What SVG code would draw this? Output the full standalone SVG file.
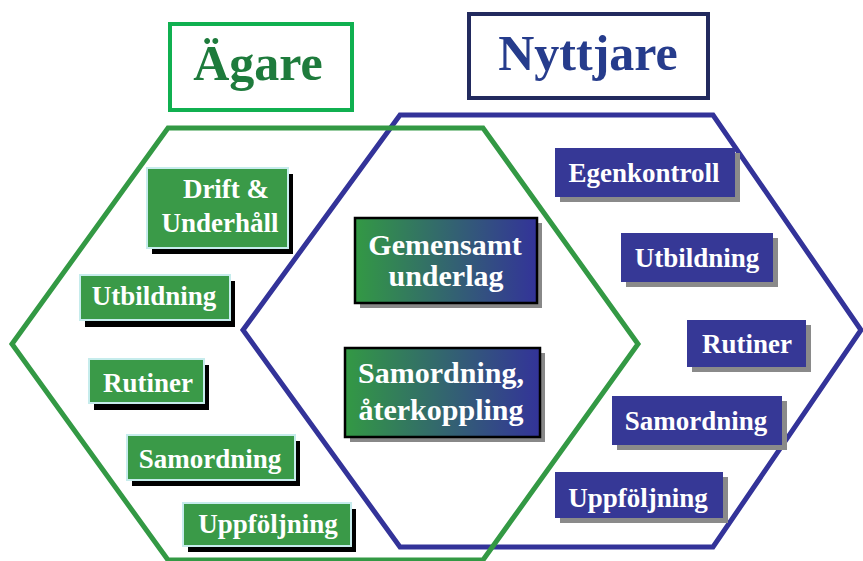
<svg xmlns="http://www.w3.org/2000/svg" width="863" height="561" viewBox="0 0 863 561" font-family="'Liberation Serif','Times New Roman',serif">
<defs>
<linearGradient id="gb" x1="0" y1="0" x2="1" y2="0">
<stop offset="0" stop-color="#339944"/>
<stop offset="1" stop-color="#333399"/>
</linearGradient>
<style>
text{font-family:"Liberation Serif","Times New Roman",serif;font-weight:bold;text-anchor:middle}
.lbl{fill:#ffffff;font-size:27px}
.big{font-size:30px;fill:#ffffff}
.gbox{fill:#3a9a48;stroke:#c6ecec;stroke-width:2}
.gsh{fill:#000000}
.bbox{fill:#363896}
.bsh{fill:#8a8a8a}
.cbox{fill:url(#gb);stroke:#000000;stroke-width:2.5}
.csh{fill:#888888}
</style>
</defs>
<rect width="863" height="561" fill="#ffffff"/>
<g id="hexagons" fill="none" stroke-width="5" stroke-linejoin="miter">
<polygon id="hex-nyttjare" points="243,330 400,115 713,115 861,330 713,547 400,547" stroke="#333399"/>
<polygon id="hex-agare" points="12,344 168,128 483,128 638,344 483,560 168,560" stroke="#339944"/>
</g>
<g id="title-agare">
<rect x="170" y="24" width="182" height="86" fill="#ffffff" stroke="#10b050" stroke-width="4"/>
<text x="258" y="80" font-size="50" fill="#1e7b3c">Ägare</text>
</g>
<g id="title-nyttjare">
<rect x="469" y="14" width="239" height="84" fill="#ffffff" stroke="#222a5e" stroke-width="4"/>
<text x="588" y="70" font-size="50" fill="#263c8c">Nyttjare</text>
</g>
<g id="g-drift">
<rect class="gsh" x="152" y="174" width="141" height="80"/>
<rect class="gbox" x="147" y="168" width="141" height="80"/>
<text class="lbl" x="226" y="198">Drift &amp;</text>
<text class="lbl" x="220" y="232">Underhåll</text>
</g>
<g id="g-utbildning">
<rect class="gsh" x="85" y="281" width="150" height="46"/>
<rect class="gbox" x="80" y="275" width="150" height="45"/>
<text class="lbl" x="154" y="305">Utbildning</text>
</g>
<g id="g-rutiner">
<rect class="gsh" x="94" y="365" width="115" height="45"/>
<rect class="gbox" x="89" y="359" width="115" height="44"/>
<text class="lbl" x="148" y="392">Rutiner</text>
</g>
<g id="g-samordning">
<rect class="gsh" x="132" y="441" width="168" height="45"/>
<rect class="gbox" x="127" y="435" width="168" height="45"/>
<text class="lbl" x="210" y="468">Samordning</text>
</g>
<g id="g-uppfoljning">
<rect class="gsh" x="188" y="509" width="168" height="43"/>
<rect class="gbox" x="183" y="503" width="168" height="43"/>
<text class="lbl" x="268" y="533">Uppföljning</text>
</g>
<g id="c-gemensamt">
<rect class="csh" x="360" y="223" width="182" height="85"/>
<rect class="cbox" x="355" y="218" width="182" height="85"/>
<text class="big" x="445" y="255">Gemensamt</text>
<text class="big" x="446" y="286">underlag</text>
</g>
<g id="c-samordning">
<rect class="csh" x="350" y="353" width="195" height="89"/>
<rect class="cbox" x="345" y="348" width="195" height="89"/>
<text class="big" x="441" y="383">Samordning,</text>
<text class="big" x="441" y="420">återkoppling</text>
</g>
<g id="b-egenkontroll">
<rect class="bsh" x="560" y="153" width="180" height="49"/>
<rect class="bbox" x="555" y="148" width="180" height="49"/>
<text class="lbl" x="644" y="182">Egenkontroll</text>
</g>
<g id="b-utbildning">
<rect class="bsh" x="626" y="238" width="152" height="49"/>
<rect class="bbox" x="621" y="233" width="152" height="49"/>
<text class="lbl" x="697" y="267">Utbildning</text>
</g>
<g id="b-rutiner">
<rect class="bsh" x="692" y="325" width="119" height="47"/>
<rect class="bbox" x="687" y="320" width="119" height="47"/>
<text class="lbl" x="747" y="353">Rutiner</text>
</g>
<g id="b-samordning">
<rect class="bsh" x="617" y="401" width="170" height="49"/>
<rect class="bbox" x="612" y="396" width="170" height="49"/>
<text class="lbl" x="696" y="430">Samordning</text>
</g>
<g id="b-uppfoljning">
<rect class="bsh" x="560" y="477" width="168" height="46"/>
<rect class="bbox" x="555" y="472" width="168" height="46"/>
<text class="lbl" x="638" y="507">Uppföljning</text>
</g>
</svg>
